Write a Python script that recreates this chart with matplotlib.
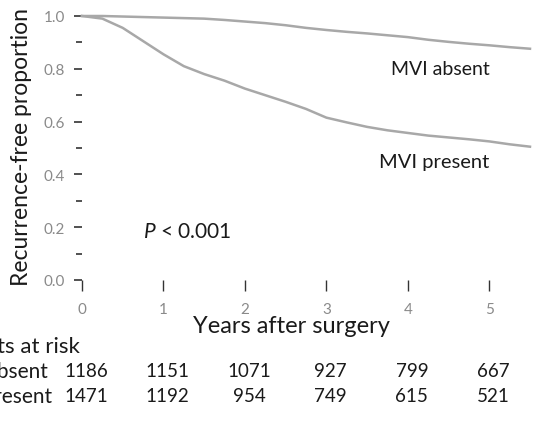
import matplotlib
matplotlib.use("Agg")
import matplotlib.pyplot as plt
from matplotlib.ticker import MultipleLocator
import matplotlib.transforms as mtransforms

plt.rcParams['font.family'] = ['Lato', 'DejaVu Sans']
plt.rcParams['mathtext.fontset'] = 'custom'
plt.rcParams['mathtext.rm'] = 'Lato'
plt.rcParams['mathtext.it'] = 'Lato:italic'

# ---- data ----
years = [0, 0.25, 0.5, 0.75, 1.0, 1.25, 1.5, 1.75, 2.0, 2.25, 2.5, 2.75,
         3.0, 3.25, 3.5, 3.75, 4.0, 4.25, 4.5, 4.75, 5.0, 5.25, 5.5]
mvi_absent = [1.0, 1.0, 0.998, 0.996, 0.994, 0.992, 0.99, 0.985, 0.979, 0.973,
              0.965, 0.955, 0.947, 0.94, 0.934, 0.927, 0.92, 0.91, 0.902, 0.895,
              0.889, 0.882, 0.876]
mvi_present = [1.0, 0.99, 0.955, 0.905, 0.855, 0.81, 0.78, 0.755, 0.725, 0.70,
               0.675, 0.648, 0.615, 0.597, 0.58, 0.567, 0.557, 0.547, 0.54, 0.533,
               0.525, 0.514, 0.505]

risk_years = [0, 1, 2, 3, 4, 5]
risk_absent = [1186, 1151, 1071, 927, 799, 667]
risk_present = [1471, 1192, 954, 749, 615, 521]

x_ticks = [0, 1, 2, 3, 4, 5]
y_ticks = [0.0, 0.2, 0.4, 0.6, 0.8, 1.0]
y_ticklabels = ['0.0', '0.2', '0.4', '0.6', '0.8', '1.0']

W, H = 543, 427
fig = plt.figure(figsize=(W / 100, H / 100), dpi=100)
ax = fig.add_axes([82 / W, 1 - 281 / H, 448 / W, 264 / H])

curve_color = '#a8a8a8'
ax.plot(years, mvi_absent, color=curve_color, lw=1.8, clip_on=False)
ax.plot(years, mvi_present, color=curve_color, lw=1.8, clip_on=False)

ax.set_xlim(0, 5.5)
ax.set_ylim(0, 1.0)
for s in ax.spines.values():
    s.set_visible(False)

ax.set_xticks(x_ticks)
ax.set_xticklabels([str(v) for v in x_ticks])
ax.set_yticks(y_ticks)
ax.set_yticklabels(y_ticklabels)
ax.yaxis.set_minor_locator(MultipleLocator(0.1))
ax.tick_params(axis='x', which='major', direction='out', length=8, width=1,
               color='#333333', labelcolor='#8a8a8a', labelsize=11, pad=8)
ax.tick_params(axis='y', which='major', direction='out', length=6, width=1.2,
               color='#333333', labelcolor='#8a8a8a', labelsize=11, pad=6)
ax.tick_params(axis='y', which='minor', direction='out', length=4, width=1.2,
               color='#333333')

txt_color = '#1a1a1a'
fig.text(22 / W, 1 - 147 / H, 'Recurrence-free proportion', rotation=90,
         ha='center', va='center', fontsize=16.5, color=txt_color)
fig.text(291 / W, 1 - 327 / H, 'Years after surgery', ha='center', va='center',
         fontsize=17, color=txt_color)

ax.text(5.0, 0.80, 'MVI absent', ha='right', va='center',
        fontsize=14, color=txt_color)
ax.text(5.0, 0.45, 'MVI present', ha='right', va='center',
        fontsize=14.5, color=txt_color)
ax.text(0.75, 0.186, r'$\it{P}$ < 0.001', ha='left', va='center',
        fontsize=15, color=txt_color)

# number-at-risk table
trans = mtransforms.blended_transform_factory(ax.transData, fig.transFigure)
fig.text(80 / W, 1 - 347 / H, 'Patients at risk', ha='right', va='center',
         fontsize=16, color=txt_color)
fig.text(48 / W, 1 - 372 / H, 'MVI absent', ha='right', va='center',
         fontsize=15, color=txt_color)
fig.text(52 / W, 1 - 397 / H, 'MVI present', ha='right', va='center',
         fontsize=15, color=txt_color)
for xv, a, p in zip(risk_years, risk_absent, risk_present):
    ax.text(xv + 0.05, 1 - 372 / H, str(a), ha='center', va='center',
            fontsize=13.5, color=txt_color, transform=trans, clip_on=False)
    ax.text(xv + 0.05, 1 - 397 / H, str(p), ha='center', va='center',
            fontsize=13.5, color=txt_color, transform=trans, clip_on=False)

fig.savefig('out.png', dpi=100)
